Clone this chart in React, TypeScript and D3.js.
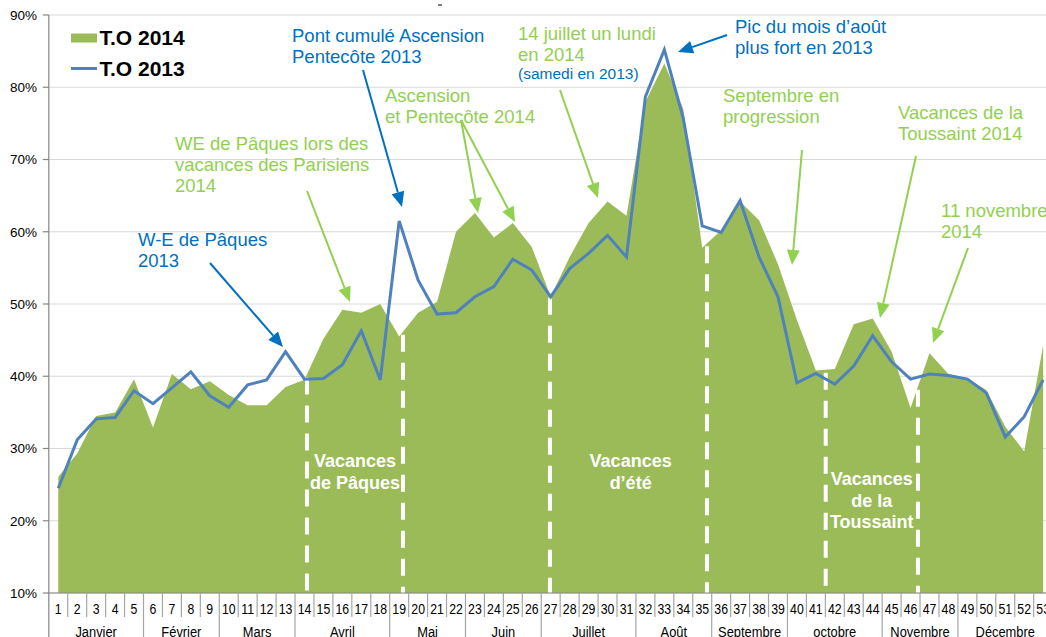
import React from 'react';
import * as d3 from 'd3';

// ---------- DATA ----------
const weeks = [1, 2, 3, 4, 5, 6, 7, 8, 9, 10, 11, 12, 13, 14, 15, 16, 17, 18, 19, 20, 21, 22, 23, 24, 25, 26, 27, 28, 29, 30, 31, 32, 33, 34, 35, 36, 37, 38, 39, 40, 41, 42, 43, 44, 45, 46, 47, 48, 49, 50, 51, 52, 53];

// Taux d'occupation 2014 (%), area
const to2014 = [26.1, 29.3, 34.5, 35.0, 39.6, 32.9, 40.3, 38.2, 39.3, 37.4, 36.0, 36.0, 38.5, 39.5, 45.2, 49.2, 48.8, 50.0, 45.5, 48.8, 50.3, 60.0, 62.6, 59.2, 61.2, 57.9, 51.0, 56.5, 61.2, 64.2, 62.2, 78.0, 83.3, 77.0, 57.8, 60.2, 64.2, 61.6, 55.5, 47.8, 40.8, 41.0, 47.2, 48.0, 43.4, 35.6, 43.2, 40.3, 39.7, 38.1, 33.0, 29.6, 44.3];

// Taux d'occupation 2013 (%), line
const to2013 = [24.5, 31.2, 34.1, 34.3, 38.0, 36.2, 38.4, 40.6, 37.3, 35.7, 38.8, 39.5, 43.4, 39.6, 39.7, 41.6, 46.3, 39.5, 61.5, 53.3, 48.6, 48.8, 51.0, 52.4, 56.2, 54.7, 51.0, 54.9, 57.0, 59.5, 56.5, 78.7, 85.2, 75.7, 60.8, 59.9, 64.3, 56.5, 51.0, 39.1, 40.4, 38.9, 41.4, 45.6, 42.0, 39.6, 40.3, 40.1, 39.6, 37.7, 31.6, 34.4, 39.5];

const monthNames = ['Janvier', 'Février', 'Mars', 'Avril', 'Mai', 'Juin', 'Juillet', 'Août', 'Septembre', 'octobre', 'Novembre', 'Décembre'];
const monthWeekCounts = [5, 4, 4, 5, 4, 4, 5, 4, 4, 5, 4, 5];

const yTicks = [0.1, 0.2, 0.3, 0.4, 0.5, 0.6, 0.7, 0.8, 0.9];

// Vacation boundaries (fractional week positions)
const vacationBounds = [14.13, 19.2, 26.96, 35.25, 41.52, 46.39];
const vacationLabels = [
  { lines: ['Vacances', 'de Pâques'], week: 16.67 },
  { lines: ['Vacances', 'd’été'], week: 31.22 },
  { lines: ['Vacances', 'de la', 'Toussaint'], week: 43.95 },
];

const seriesNames = ['T.O 2014', 'T.O 2013'];

// ---------- STYLE ----------
const GREEN_AREA = '#9BBB59';
const BLUE_LINE = '#4F81BD';
const ANN_BLUE = '#0070C0';
const ANN_GREEN = '#92D050';
const FONT = '"Liberation Sans", Arial, Helvetica, sans-serif';

// Annotation layout (pixels)
const annotations = [
  { lines: ['W-E de Pâques', '2013'], x: 138, ys: [246, 267], color: ANN_BLUE },
  { lines: ['WE de Pâques lors des', 'vacances des Parisiens', '2014'], x: 175, ys: [150, 171, 192], color: ANN_GREEN },
  { lines: ['Pont cumulé Ascension', 'Pentecôte 2013'], x: 292, ys: [42, 63], color: ANN_BLUE },
  { lines: ['Ascension', 'et Pentecôte 2014'], x: 385, ys: [102, 123], color: ANN_GREEN },
  { lines: ['14 juillet un lundi', 'en 2014'], x: 518, ys: [40, 61], color: ANN_GREEN },
  { lines: ['Pic du mois d’août', 'plus fort en 2013'], x: 735, ys: [33, 54], color: ANN_BLUE },
  { lines: ['Septembre en', 'progression'], x: 723, ys: [102, 123], color: ANN_GREEN },
  { lines: ['Vacances de la', 'Toussaint 2014'], x: 898, ys: [119, 140], color: ANN_GREEN },
  { lines: ['11 novembre', '2014'], x: 941, ys: [217, 238], color: ANN_GREEN },
];

const arrows = [
  { x1: 210, y1: 263, x2: 283, y2: 347, color: ANN_BLUE },
  { x1: 307, y1: 191, x2: 350, y2: 302, color: ANN_GREEN },
  { x1: 363, y1: 70, x2: 402, y2: 207, color: ANN_BLUE },
  { x1: 461, y1: 120, x2: 478, y2: 213, color: ANN_GREEN },
  { x1: 461, y1: 120, x2: 515, y2: 222, color: ANN_GREEN },
  { x1: 560, y1: 90, x2: 598, y2: 198, color: ANN_GREEN },
  { x1: 727, y1: 35, x2: 678, y2: 52, color: ANN_BLUE },
  { x1: 802, y1: 150, x2: 792, y2: 265, color: ANN_GREEN },
  { x1: 916, y1: 156, x2: 880, y2: 318, color: ANN_GREEN },
  { x1: 968, y1: 248, x2: 933, y2: 343, color: ANN_GREEN },
];

function Arrow({ x1, y1, x2, y2, color }: { x1: number; y1: number; x2: number; y2: number; color: string }) {
  const ang = Math.atan2(y2 - y1, x2 - x1);
  const len = 15;
  const hw = 6.5;
  const bx = x2 - len * Math.cos(ang);
  const by = y2 - len * Math.sin(ang);
  const px = -Math.sin(ang) * hw;
  const py = Math.cos(ang) * hw;
  return (
    <g>
      <line x1={x1} y1={y1} x2={bx} y2={by} stroke={color} strokeWidth={2} />
      <polygon points={`${x2},${y2} ${bx + px},${by + py} ${bx - px},${by - py}`} fill={color} />
    </g>
  );
}

export default function App() {
  const W = 1046;
  const H = 637;
  const plotLeft = 48.8;
  const bandW = 18.94;
  const x = d3.scaleBand<number>().domain(weeks).range([plotLeft, plotLeft + bandW * weeks.length]).padding(0);
  const cx = (w: number) => (x(w) as number) + x.bandwidth() / 2;
  const xf = d3.scaleLinear().domain([1, 53]).range([cx(1), cx(53)]);
  const y = d3.scaleLinear().domain([0.1, 0.9]).range([593, 15]);
  const y0 = y(0.1);

  const area = d3.area<number>().x((_, i) => cx(weeks[i])).y0(y0).y1((d) => y(d / 100));
  const line = d3.line<number>().x((_, i) => cx(weeks[i])).y((d) => y(d / 100));

  const interp2014 = (k: number) => {
    const i = Math.floor(k) - 1;
    const t = k - Math.floor(k);
    const a = to2014[i];
    const b = to2014[Math.min(i + 1, to2014.length - 1)];
    return a + (b - a) * t;
  };

  let acc = 0;
  const months = monthNames.map((name, i) => {
    const start = acc;
    acc += monthWeekCounts[i];
    return { name, startIdx: start, endIdx: acc };
  });
  const monthBoundaries = new Set(months.map((m) => m.endIdx));

  return (
    <svg width={W} height={H} style={{ position: 'absolute', left: 0, top: 0, background: '#fff' }} fontFamily={FONT}>
      {yTicks.map((t) => (
        <line key={'g' + t} x1={plotLeft} x2={W} y1={y(t)} y2={y(t)} stroke="#D9D9D9" strokeWidth={1} />
      ))}

      <path d={area(to2014) || ''} fill={GREEN_AREA} />

      {vacationBounds.map((k) => (
        <line
          key={'v' + k}
          x1={xf(k)}
          x2={xf(k)}
          y1={y(interp2014(k) / 100) + 3}
          y2={y0}
          stroke="#fff"
          strokeWidth={4}
          strokeDasharray="17 11"
        />
      ))}

      <path d={line(to2013) || ''} fill="none" stroke={BLUE_LINE} strokeWidth={3} strokeLinejoin="miter" />

      {vacationLabels.map((v, vi) =>
        v.lines.map((l, li) => {
          const base = v.lines.length === 3 ? 485 : 467;
          return (
            <text key={'vl' + vi + li} x={xf(v.week)} y={base + li * 21.5} textAnchor="middle" fill="#fff" fontWeight="bold" fontSize={18}>
              {l}
            </text>
          );
        })
      )}

      <line x1={plotLeft} x2={plotLeft} y1={y(0.9)} y2={H} stroke="#868686" strokeWidth={1.2} />
      {yTicks.map((t) => (
        <g key={'yt' + t}>
          <line x1={plotLeft - 6} x2={plotLeft} y1={y(t)} y2={y(t)} stroke="#868686" strokeWidth={1.2} />
          <text x={37} y={y(t)} dy="0.36em" textAnchor="end" fontSize={13.5} fill="#000">
            {d3.format('.0%')(t)}
          </text>
        </g>
      ))}

      <line x1={plotLeft} x2={W} y1={y0} y2={y0} stroke="#868686" strokeWidth={1.2} />
      {weeks.map((w, i) => {
        const bx = (x(w) as number) + x.bandwidth();
        const isMonth = monthBoundaries.has(i + 1);
        return <line key={'sep' + w} x1={bx} x2={bx} y1={y0} y2={isMonth ? H : 617} stroke="#A6A6A6" strokeWidth={1.2} />;
      })}
      {weeks.map((w) => (
        <text key={'wl' + w} transform={`translate(${cx(w)},614) scale(0.82,1)`} textAnchor="middle" fontSize={15} fill="#000">
          {w}
        </text>
      ))}
      {months.map((m) => {
        const xs = x(weeks[m.startIdx]) as number;
        const xe = (x(weeks[m.endIdx - 1]) as number) + x.bandwidth();
        return (
          <text key={'m' + m.name} transform={`translate(${(xs + xe) / 2},637) scale(0.92,1)`} textAnchor="middle" fontSize={14} fill="#000">
            {m.name}
          </text>
        );
      })}

      <rect x={71} y={33.5} width={26} height={9} fill={GREEN_AREA} />
      <text x={99.5} y={44.5} fontSize={21} fontWeight="bold" fill="#000">{seriesNames[0]}</text>
      <line x1={71} x2={97} y1={68.5} y2={68.5} stroke={BLUE_LINE} strokeWidth={3} />
      <text x={99.5} y={76} fontSize={21} fontWeight="bold" fill="#000">{seriesNames[1]}</text>

      <line x1={438} x2={442} y1={5} y2={5} stroke="#000" strokeWidth={1} />

      {annotations.map((a, ai) =>
        a.lines.map((l, li) => (
          <text key={'a' + ai + li} x={a.x} y={a.ys[li]} fontSize={18.5} fill={a.color}>
            {l}
          </text>
        ))
      )}
      <text x={518} y={79} fontSize={15.5} fill={ANN_BLUE}>(samedi en 2013)</text>

      {arrows.map((a, i) => (
        <Arrow key={'ar' + i} {...a} />
      ))}
    </svg>
  );
}
